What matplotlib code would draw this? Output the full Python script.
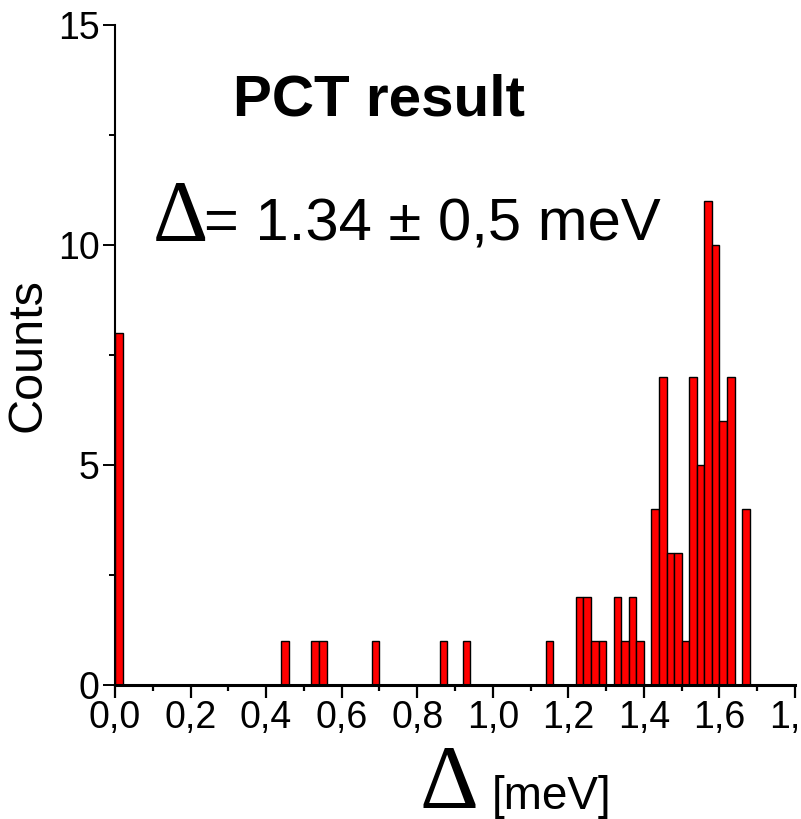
#!/usr/bin/env python3
"""PCT result histogram of gap values Delta (meV)."""
import numpy as np
import matplotlib
matplotlib.use("Agg")
import matplotlib.pyplot as plt
from matplotlib.ticker import MultipleLocator, FixedLocator

# bin centres (meV), bin width 0.02
centers = [0.01, 0.45, 0.53, 0.55, 0.69, 0.87, 0.93, 1.15, 1.23, 1.25, 1.27,
           1.29, 1.33, 1.35, 1.37, 1.39, 1.43, 1.45, 1.47, 1.49, 1.51, 1.53,
           1.55, 1.57, 1.59, 1.61, 1.63, 1.67]
counts = [8, 1, 1, 1, 1, 1, 1, 1, 2, 2, 1, 1, 2, 1, 2, 1, 4, 7, 3, 3, 1, 7,
          5, 11, 10, 6, 7, 4]
bin_width = 0.02
xticks = [0.0, 0.2, 0.4, 0.6, 0.8, 1.0, 1.2, 1.4, 1.6, 1.8]
xticklabels = ["0,0", "0,2", "0,4", "0,6", "0,8", "1,0", "1,2", "1,4", "1,6", "1,8"]
yticks = [0, 5, 10, 15]

W, H = 801, 819
plt.rcParams["font.family"] = ["Liberation Sans", "DejaVu Sans"]

fig = plt.figure(figsize=(W / 100, H / 100), dpi=100)
ax = fig.add_axes([115 / W, 1 - 685 / H, (795 - 115) / W, (685 - 25) / H])

ax.bar(centers, counts, width=bin_width, color="#ff0000", edgecolor="black",
       linewidth=1.0, align="center", zorder=2)

ax.set_xlim(0, 1.8)
ax.set_ylim(0, 15)
ax.spines["top"].set_visible(False)
ax.spines["right"].set_visible(False)
ax.spines["left"].set_linewidth(1.5)
ax.spines["bottom"].set_linewidth(2.2)
ax.spines["bottom"].set_zorder(3)

ax.xaxis.set_major_locator(FixedLocator(xticks))
ax.set_xticklabels(xticklabels)
ax.xaxis.set_minor_locator(MultipleLocator(0.1))
ax.yaxis.set_major_locator(FixedLocator(yticks))
ax.yaxis.set_minor_locator(MultipleLocator(2.5))

ax.tick_params(axis="x", which="major", direction="out", length=9, width=1.6,
               labelsize=27, pad=2)
ax.tick_params(axis="x", which="minor", direction="out", length=4.5, width=1.6)
ax.tick_params(axis="y", which="major", direction="out", length=9, width=1.4,
               labelsize=27, pad=2)
ax.tick_params(axis="y", which="minor", direction="out", length=4.5, width=1.4)


def px(x, y):
    return x / W, 1 - y / H


# annotations
fig.text(*px(379, 115), "PCT result", fontsize=42, fontweight="bold",
         ha="center", va="baseline")
fig.text(*px(153, 240), "\u0394", fontsize=62, family=["Liberation Serif"],
         ha="left", va="baseline")
fig.text(*px(204, 240), "= 1.34 \u00b1 0,5 meV", fontsize=43,
         ha="left", va="baseline")

# axis labels
fig.text(*px(420, 808), "\u0394", fontsize=66, family=["Liberation Serif"],
         ha="left", va="baseline")
fig.text(*px(492, 809), "[meV]", fontsize=33, ha="left", va="baseline")
fig.text(*px(28, 355), "Counts", fontsize=35, rotation=90,
         ha="center", va="center")

fig.savefig("out.png", dpi=100)
